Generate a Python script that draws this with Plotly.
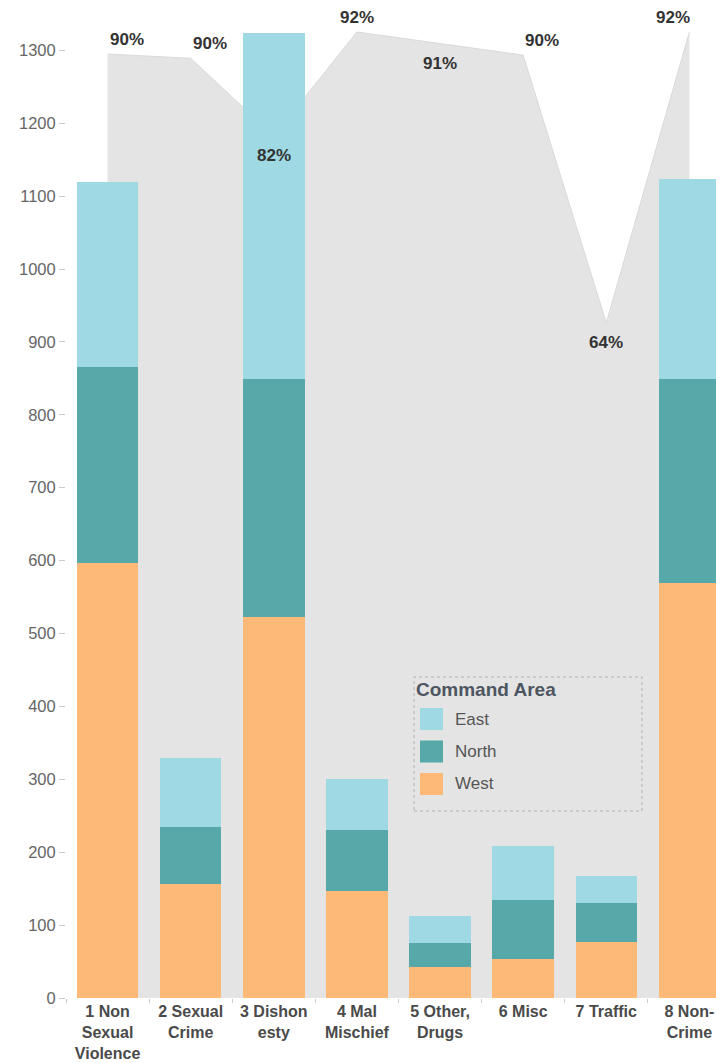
import plotly.graph_objects as go

# ---------------- data ----------------
categories = ["1 Non Sexual Violence", "2 Sexual Crime", "3 Dishonesty", "4 Mal Mischief",
              "5 Other, Drugs", "6 Misc", "7 Traffic", "8 Non-Crime"]
tick_labels = ["1 Non<br>Sexual<br>Violence", "2 Sexual<br>Crime", "3 Dishon<br>esty",
               "4 Mal<br>Mischief", "5 Other,<br>Drugs", "6 Misc", "7 Traffic", "8 Non-<br>Crime"]
west = [597, 156, 522, 147, 42, 53, 77, 569]
north = [268, 79, 327, 84, 33, 82, 54, 280]
east = [255, 94, 475, 69, 38, 73, 36, 274]
pct = [89.9, 89.5, 82.1, 92.0, 90.9, 89.8, 64.3, 92.0]   # percentage line (area)
legend_title = "Command Area"
legend_names = ["East", "North", "West"]

# ---------------- style ----------------
FONT = "Liberation Sans, Arial, sans-serif"
COL = {"East": "#9ed9e4", "North": "#57a9a9", "West": "#fdb977"}
AREA = "#e4e4e4"

# label placement per point (style, not data)
placement = ["above-right", "above-right", "below", "above", "below",
             "above-right", "below", "above-left"]

# plot geometry in page pixels (page body margin removed via post_script)
PLOT_L, PLOT_R, PLOT_T, PLOT_B = 66, 716, 8, 998
FIG_W, FIG_H = 716, 1063
PLOT_W, PLOT_H = PLOT_R - PLOT_L, PLOT_B - PLOT_T
COUNT_PX = 0.729     # pixels per count unit
PCT_PX = 10.5        # pixels per percent

fig = go.Figure()

# grey percentage area on the base (hidden) axis, drawn behind the bars
fig.add_trace(go.Scatter(
    x=categories, y=pct, mode="lines", fill="tozeroy",
    fillcolor=AREA, line=dict(color="#dadada", width=1),
    yaxis="y", showlegend=False, hoverinfo="skip"))

# stacked bars on the overlaying count axis
for name, vals in (("West", west), ("North", north), ("East", east)):
    fig.add_trace(go.Bar(
        x=categories, y=vals, name=name, yaxis="y2",
        marker=dict(color=COL[name], line=dict(width=0)),
        showlegend=False))

# percentage labels
annotations = []
for cat, v, pl in zip(categories, pct, placement):
    if pl == "above-right":
        xa, ys, xs = "left", 15, 0
    elif pl == "above-left":
        xa, ys, xs = "right", 15, 3
    elif pl == "above":
        xa, ys, xs = "center", 15, 0
    else:
        xa, ys, xs = "center", -20, 0
    annotations.append(dict(
        x=cat, y=v, xref="x", yref="y", text=f"{round(v)}%", showarrow=False,
        xanchor=xa, yanchor="middle", yshift=ys, xshift=xs,
        font=dict(family=FONT, size=17, color="#333333", weight="bold")))

# custom legend (box, title, swatches, labels)
def px(xp):
    return (xp - PLOT_L) / PLOT_W
def py(yp):
    return (PLOT_B - yp) / PLOT_H

shapes = [dict(type="rect", xref="paper", yref="paper",
               x0=px(414), x1=px(642), y0=py(811), y1=py(677),
               line=dict(color="#b0b0b0", width=1, dash="dot"),
               fillcolor="rgba(0,0,0,0)", layer="above")]
annotations.append(dict(x=px(414), y=py(689), xref="paper", yref="paper",
                        text=legend_title, showarrow=False, xanchor="left", yanchor="middle",
                        font=dict(family=FONT, size=19, color="#4d5561", weight="bold")))
for i, name in enumerate(legend_names):
    cy = 719 + i * 32.5
    shapes.append(dict(type="rect", xref="paper", yref="paper",
                       x0=px(420), x1=px(443), y0=py(cy + 11), y1=py(cy - 11),
                       line=dict(width=0), fillcolor=COL[name], layer="above"))
    annotations.append(dict(x=px(453), y=py(cy), xref="paper", yref="paper",
                            text=name, showarrow=False, xanchor="left", yanchor="middle",
                            font=dict(family=FONT, size=17, color="#555555")))

fig.update_layout(
    width=FIG_W, height=FIG_H,
    margin=dict(l=PLOT_L, r=FIG_W - PLOT_R, t=PLOT_T, b=FIG_H - PLOT_B),
    paper_bgcolor="white", plot_bgcolor="white",
    barmode="stack", bargap=0.26,
    font=dict(family=FONT),
    showlegend=False,
    xaxis=dict(type="category", range=[-0.5, 7.32], automargin=False,
               tickmode="array", tickvals=categories, ticktext=tick_labels,
               tickson="boundaries", ticks="outside", ticklen=4, tickcolor="#cccccc",
               ticklabelstandoff=2,
               showgrid=False, showline=False, zeroline=False,
               tickfont=dict(family=FONT, size=16, color="#4a4a4a", weight="bold")),
    yaxis=dict(range=[0, PLOT_H / PCT_PX], visible=False, showgrid=False,
               zeroline=False, automargin=False),
    yaxis2=dict(range=[0, PLOT_H / COUNT_PX], overlaying="y", side="left", anchor="x",
                tickmode="linear", tick0=0, dtick=100, automargin=False,
                ticks="outside", ticklen=6, tickcolor="#cccccc",
                showgrid=False, zeroline=False, showline=False,
                tickfont=dict(family=FONT, size=16.5, color="#666666")),
    shapes=shapes,
    annotations=annotations,
)

fig.write_html("out.html",
               config={"displayModeBar": False},
               post_script="document.body.style.margin='0px';document.body.style.overflow='hidden';")
